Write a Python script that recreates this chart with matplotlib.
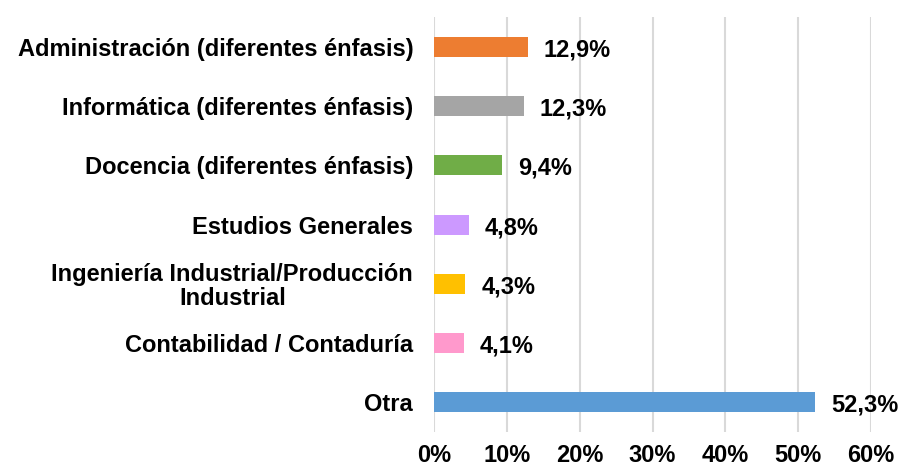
import matplotlib.pyplot as plt
from matplotlib.ticker import FuncFormatter

plt.rcParams["font.family"] = ["Liberation Sans", "DejaVu Sans"]
plt.rcParams["font.weight"] = "bold"

categories = [
    "Administración (diferentes énfasis)",
    "Informática (diferentes énfasis)",
    "Docencia (diferentes énfasis)",
    "Estudios Generales",
    "Ingeniería Industrial/Producción\nIndustrial",
    "Contabilidad / Contaduría",
    "Otra",
]
values = [12.9, 12.3, 9.4, 4.8, 4.3, 4.1, 52.3]
colors = ["#ed7d31", "#a5a5a5", "#70ad47", "#cc99ff", "#ffc000", "#ff99cc", "#5b9bd5"]
ticks = [0, 10, 20, 30, 40, 50, 60]

fig = plt.figure(figsize=(9.01, 4.68), dpi=100)
ax = fig.add_axes([0.4817, 0.077, 0.4850, 0.886])

pos = list(range(len(categories)))[::-1]
ax.barh(pos, values, height=0.34, color=colors, zorder=3)

for y, v in zip(pos, values):
    ax.text(v + 2.2, y - 0.05, f"{v:.1f}%".replace(".", ","), va="center", ha="left",
            fontsize=17, fontweight="bold", color="black")

ax.set_xlim(0, 60)
ax.set_ylim(-0.5, len(categories) - 0.5)
ax.set_xticks(ticks)
ax.xaxis.set_major_formatter(FuncFormatter(lambda x, _: f"{x:.0f}%"))
ax.set_yticks(pos)
ax.set_yticklabels(categories, multialignment="center", linespacing=1.05)
ax.tick_params(axis="both", length=0, labelsize=17, colors="black")
ax.tick_params(axis="y", pad=15)
ax.tick_params(axis="x", pad=9)
ax.grid(axis="x", color="#d9d9d9", linewidth=1.5, zorder=0)
for s in ax.spines.values():
    s.set_visible(False)

fig.savefig("out.png", dpi=100, facecolor="white")
